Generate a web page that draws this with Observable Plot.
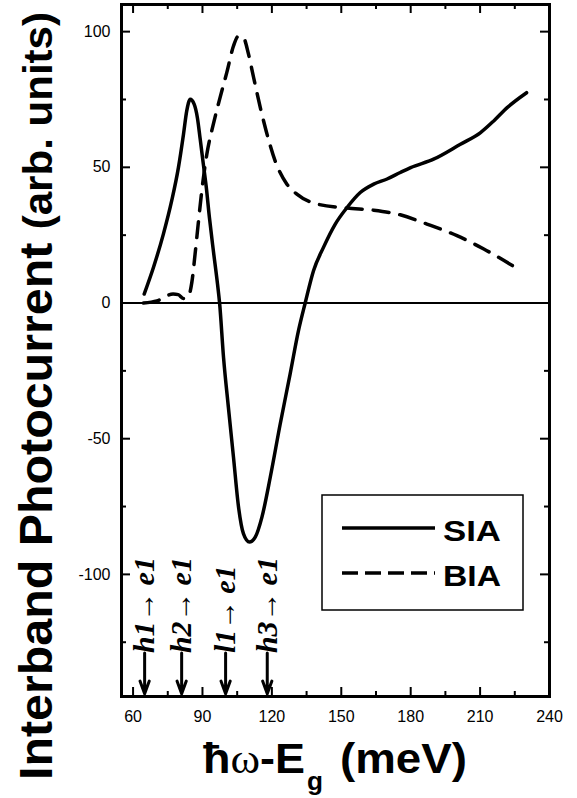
<!DOCTYPE html>
<html><head><meta charset="utf-8">
<script src="https://cdn.jsdelivr.net/npm/d3@7"></script>
<script src="https://cdn.jsdelivr.net/npm/@observablehq/plot@0.6"></script>
<style>body{margin:0;background:#fff} svg{display:block}</style>
</head><body><div id="chart"></div>
<script>
// ---- data ----
const siaX = [64.8, 68.8, 73.1, 76.7, 79.6, 81.8, 83.2, 84.7, 86.4, 87.8, 89.0, 90.4, 91.6, 93.0, 94.7, 96.5, 97.4, 99.1, 101.2, 103.4, 105.6, 107.7, 110.3, 112.8, 115.7, 119.3, 123.6, 127.9, 131.5, 134.4, 138.0, 142.3, 147.4, 152.5, 158.2, 164.0, 169.8, 175.5, 180.0, 189.9, 201.5, 210.2, 215.9, 221.7, 230.1];
const siaY = [3.3, 13.1, 25.4, 37.7, 49.9, 62.2, 70.8, 75.1, 73.3, 68.3, 60.5, 51.0, 43.0, 31.5, 19.3, 7.0, 0.0, -20.0, -38.4, -56.8, -75.3, -85.0, -88.1, -86.3, -78.9, -64.2, -44.6, -26.1, -10.2, 0.0, 11.9, 20.5, 29.1, 35.2, 40.7, 43.8, 45.7, 48.1, 49.9, 53.0, 58.5, 62.8, 67.1, 72.0, 77.5];
const biaX = [64.5, 70.3, 77.3, 79.5, 81.7, 83.8, 85.4, 86.8, 88.3, 89.7, 91.9, 94.7, 97.6, 100.5, 103.4, 105.6, 107.7, 109.9, 112.1, 115.0, 117.5, 121.4, 126.5, 130.8, 139.5, 152.5, 164.0, 175.5, 187.0, 200.0, 211.6, 225.3];
const biaY = [0.0, 0.8, 3.3, 3.1, 1.7, 2.3, 7.6, 18.0, 30.3, 41.3, 54.9, 65.9, 75.7, 84.9, 94.7, 98.4, 97.8, 91.7, 83.1, 72.0, 63.5, 52.4, 43.8, 40.1, 36.5, 35.0, 34.2, 32.5, 29.1, 24.8, 19.9, 13.1];
const transitions = ["h1", "h2", "l1", "h3"];
const transitionX = [65, 81, 100, 118];
const arrowTopY = -129;
const arrowTipY = -144;
const xMajor = [60, 90, 120, 150, 180, 210, 240];
const xMinor = [75, 105, 135, 165, 195, 225];
const yMajor = [-100, -50, 0, 50, 100];
const yMinor = [-125, -75, -25, 25, 75];
const seriesNames = ["SIA", "BIA"];

const sia = siaX.map((x, i) => ({x, y: siaY[i]}));
const bia = biaX.map((x, i) => ({x, y: biaY[i]}));
const trans = transitions.map((t, i) => ({t, x: transitionX[i]}));

const W = 577, H = 798, mL = 121, mR = 28, mT = 4, mB = 102;
const fw = W - mL - mR, fh = H - mT - mB;
const majorLen = 9, minorLen = 5;

const plot = Plot.plot({
  width: W, height: H,
  marginLeft: mL, marginRight: mR, marginTop: mT, marginBottom: mB,
  x: {domain: [55, 240]},
  y: {domain: [-145, 110]},
  style: {fontFamily: "'Liberation Sans', Arial, sans-serif", fontSize: "16px", color: "#000", background: "#fff"},
  marks: [
    Plot.axisX(xMajor, {tickSize: 0, tickPadding: 14, tickFormat: d => String(d), label: null, fontSize: 16}),
    Plot.axisY(yMajor, {tickSize: 0, tickPadding: 11, tickFormat: d => String(d), label: null, fontSize: 16}),
    Plot.tickX(xMajor, {x: d => d, insetTop: fh - majorLen, strokeWidth: 2}),
    Plot.tickX(xMajor, {x: d => d, insetBottom: fh - majorLen, strokeWidth: 2}),
    Plot.tickX(xMinor, {x: d => d, insetTop: fh - minorLen, strokeWidth: 2}),
    Plot.tickX(xMinor, {x: d => d, insetBottom: fh - minorLen, strokeWidth: 2}),
    Plot.tickY(yMajor, {y: d => d, insetRight: fw - majorLen, strokeWidth: 2}),
    Plot.tickY(yMajor, {y: d => d, insetLeft: fw - majorLen, strokeWidth: 2}),
    Plot.tickY(yMinor, {y: d => d, insetRight: fw - minorLen, strokeWidth: 2}),
    Plot.tickY(yMinor, {y: d => d, insetLeft: fw - minorLen, strokeWidth: 2}),
    Plot.ruleY([0], {strokeWidth: 2}),
    Plot.line(bia, {x: "x", y: "y", stroke: "#000", strokeWidth: 3.5, strokeDasharray: "16,11", curve: "monotone-x"}),
    Plot.line(sia, {x: "x", y: "y", stroke: "#000", strokeWidth: 3.5, curve: "monotone-x"}),
    Plot.arrow(trans, {x1: "x", x2: "x", y1: () => arrowTopY, y2: () => arrowTipY, stroke: "#000", strokeWidth: 3, headLength: 10, headAngle: 40, insetStart: 0, insetEnd: 0}),
    Plot.text(trans, {x: "x", y: () => arrowTopY, text: d => d.t + "\u2192\u2009e1", rotate: -90, textAnchor: "start",
      fontSize: 30, fontFamily: "'Liberation Serif', 'Times New Roman', serif", fontStyle: "italic", fontWeight: "bold", fill: "#000"}),
    Plot.frame({stroke: "#000", strokeWidth: 3})
  ]
});

document.getElementById("chart").appendChild(plot);
const svg = d3.select(plot);

const SANS = "'Liberation Sans', Arial, sans-serif";
const SERIF = "'Liberation Serif', 'Times New Roman', serif";

// legend
const lg = svg.append("g").attr("class", "legend").attr("text-anchor", "start");
lg.append("rect").attr("x", 322).attr("y", 495).attr("width", 201).attr("height", 115)
  .attr("fill", "#fff").attr("stroke", "#000").attr("stroke-width", 1.5);
const legY = [528, 573];
const legDash = [null, "16,7"];
seriesNames.forEach((name, i) => {
  lg.append("line").attr("x1", 342).attr("x2", 435).attr("y1", legY[i]).attr("y2", legY[i])
    .attr("stroke", "#000").attr("stroke-width", 3.5).attr("stroke-dasharray", legDash[i]);
  lg.append("text").attr("x", 443).attr("y", legY[i] + 12.5).attr("text-anchor", "start").text(name)
    .attr("font-family", SANS).attr("font-weight", "bold").attr("font-size", 29)
    .attr("textLength", 58).attr("lengthAdjust", "spacingAndGlyphs");
});

// y label
const yl = svg.append("text").attr("transform", "translate(52,780) rotate(-90)").attr("text-anchor", "start")
  .attr("font-family", SANS).attr("font-weight", "bold")
  .attr("textLength", 768).attr("lengthAdjust", "spacingAndGlyphs");
yl.append("tspan").attr("font-size", 46).text("Interband Photocurrent ");
yl.append("tspan").attr("font-size", 40).text("(arb. units)");

// x label
const xl = svg.append("text").attr("x", 203).attr("y", 773).attr("text-anchor", "start")
  .attr("font-family", SANS).attr("font-weight", "bold").attr("font-size", 42)
  .attr("textLength", 102).attr("lengthAdjust", "spacingAndGlyphs");
xl.append("tspan").text("\u0127");
xl.append("tspan").attr("font-family", SERIF).attr("font-weight", "normal").text("\u03c9");
xl.append("tspan").text("-E");
svg.append("text").attr("x", 307).attr("y", 790).attr("text-anchor", "start")
  .attr("font-family", SANS).attr("font-weight", "bold").attr("font-size", 26)
  .attr("textLength", 16).attr("lengthAdjust", "spacingAndGlyphs").text("g");
svg.append("text").attr("x", 340).attr("y", 773).attr("text-anchor", "start")
  .attr("font-family", SANS).attr("font-weight", "bold").attr("font-size", 42)
  .attr("textLength", 127).attr("lengthAdjust", "spacingAndGlyphs").text("(meV)");
</script>
</body></html>
